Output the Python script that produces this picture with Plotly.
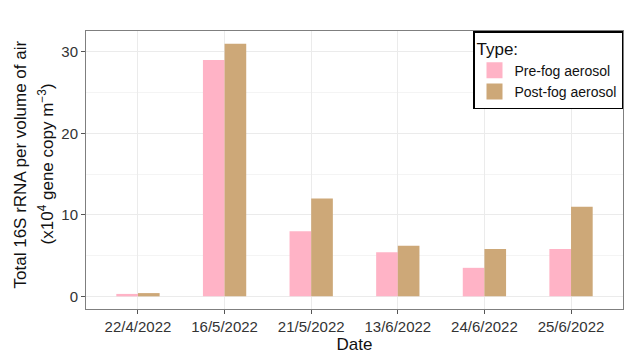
import plotly.graph_objects as go

dates = ["22/4/2022", "16/5/2022", "21/5/2022", "13/6/2022", "24/6/2022", "25/6/2022"]
pre_fog = [0.3, 29.0, 8.0, 5.4, 3.5, 5.8]
post_fog = [0.4, 31.0, 12.0, 6.2, 5.8, 11.0]
series_names = ["Pre-fog aerosol", "Post-fog aerosol"]
colors = ["#FFB3C6", "#CDA878"]

L, R, T, B = 86, 19, 31, 52
W, H = 642, 361
pw = W - L - R

fig = go.Figure()
for vals, name, col in zip([pre_fog, post_fog], series_names, colors):
    fig.add_trace(go.Bar(x=dates, y=vals, name=name, showlegend=False,
                         marker=dict(color=col, line=dict(width=0))))
for name, col in zip(series_names, colors):
    fig.add_trace(go.Scatter(x=[None], y=[None], mode="markers", name=name,
                             marker=dict(symbol="square", size=20, color=col)))

fig.update_layout(
    width=W, height=H,
    margin=dict(l=L, r=R, t=T, b=B),
    barmode="group", bargap=0.5, bargroupgap=0,
    plot_bgcolor="white", paper_bgcolor="white",
    font=dict(family="Liberation Sans, Arial, sans-serif", color="#222"),
    legend=dict(
        title=dict(text="Type:", font=dict(size=17, color="#111")),
        font=dict(size=14, color="#111"),
        x=1, y=1, xanchor="right", yanchor="top",
        bordercolor="black", borderwidth=1.5, bgcolor="white",
        itemsizing="trace", tracegroupgap=0,
    ),
    xaxis=dict(
        type="category", range=[-0.6, 5.6],
        showgrid=True, gridcolor="#EBEBEB", gridwidth=1,
        showline=True, linecolor="#7F7F7F", linewidth=1, mirror=True,
        ticks="outside", ticklen=4, tickcolor="#555",
        tickfont=dict(size=15, color="#333"),
        title=dict(text="Date", font=dict(size=17, color="#111"), standoff=3),
    ),
    yaxis=dict(
        range=[-1.55, 32.55], dtick=10, tick0=0,
        showgrid=True, gridcolor="#EBEBEB", gridwidth=1,
        minor=dict(dtick=5, tick0=0, showgrid=True, gridcolor="#F4F4F4", gridwidth=0.8),
        zeroline=False,
        showline=True, linecolor="#7F7F7F", linewidth=1, mirror=True,
        ticks="outside", ticklen=4, tickcolor="#555",
        tickfont=dict(size=15, color="#333"),
    ),
)

fig.add_annotation(text="Total 16S rRNA per volume of air", textangle=-90,
                   xref="paper", yref="paper", x=(20 - L) / pw, y=0.52,
                   xanchor="center", yanchor="middle", showarrow=False,
                   font=dict(size=17, color="#111"))
fig.add_annotation(text="(x10<sup>4</sup> gene copy m<sup>−3</sup>)", textangle=-90,
                   xref="paper", yref="paper", x=(46 - L) / pw, y=0.52,
                   xanchor="center", yanchor="middle", showarrow=False,
                   font=dict(size=17, color="#111"))

fig.write_html("out.html")
